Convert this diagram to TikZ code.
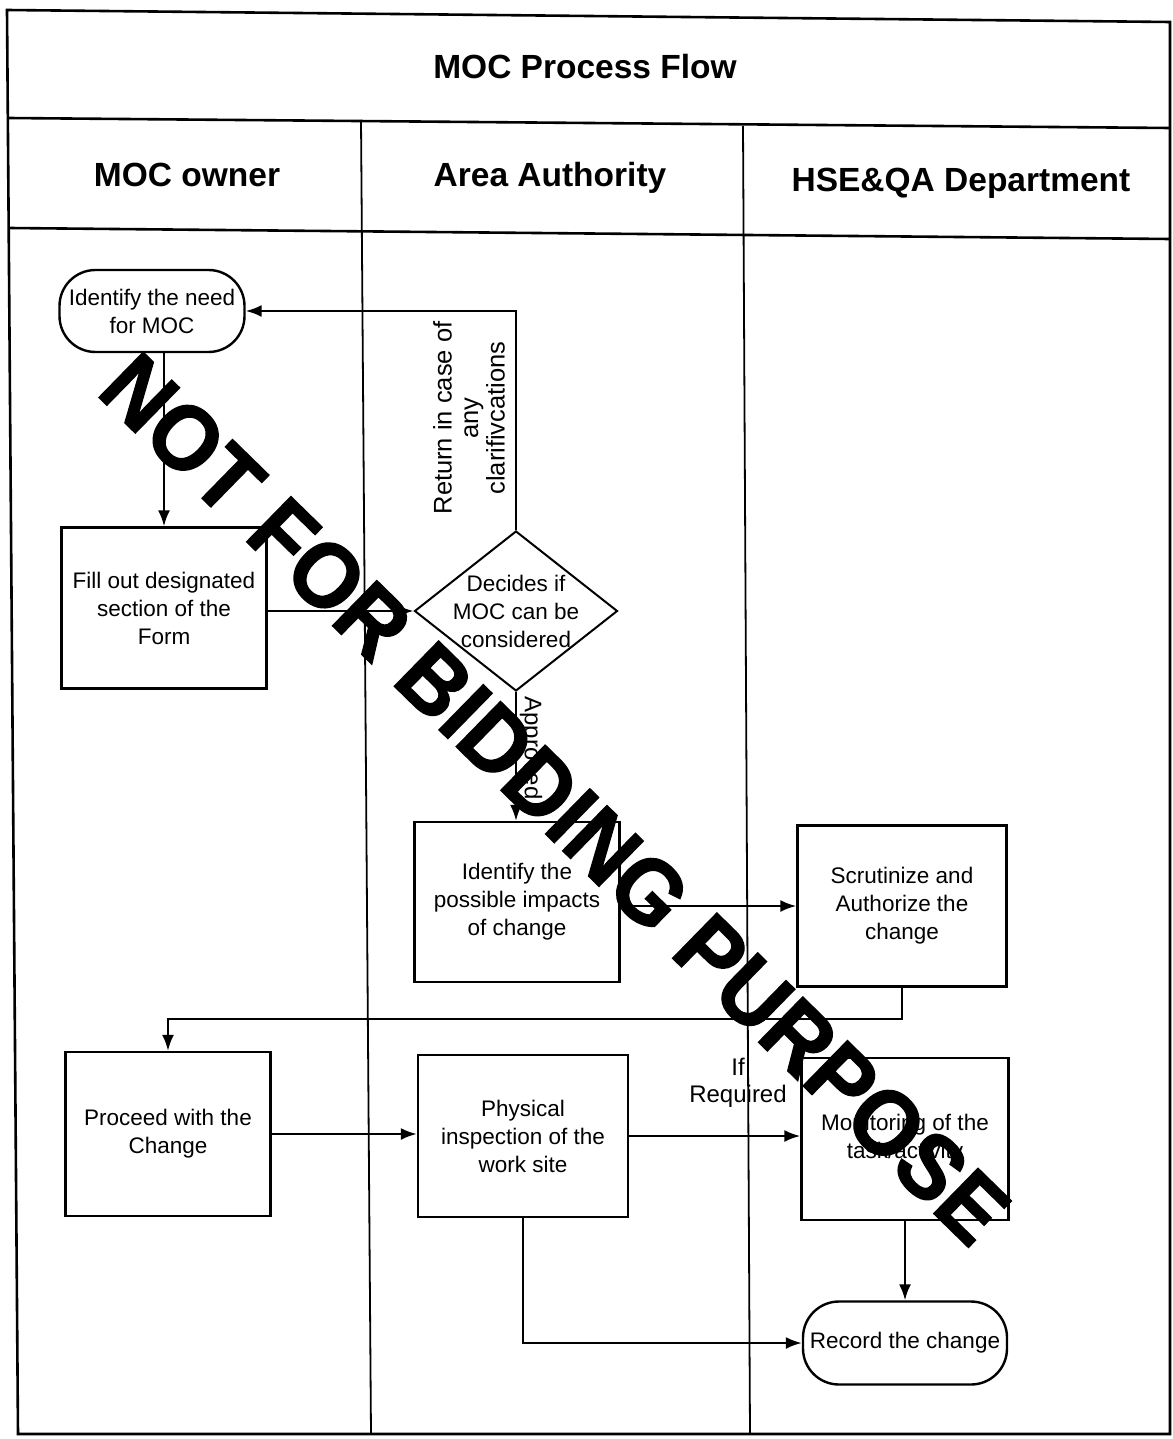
\documentclass[tikz,border=0pt]{standalone}
\usepackage{fontspec}
\setmainfont{Liberation Sans}
\usetikzlibrary{shapes.geometric,arrows.meta}
\newfontfamily\wmfont[FakeBold=1.5]{Liberation Sans Bold}
\begin{document}
\begin{tikzpicture}[x=1pt,y=-1pt,
  frame/.style={line width=2.6pt},
  lane/.style={line width=1.8pt},
  boxtxt/.style={font=\fontsize{22.5}{28}\selectfont, align=center},
  box/.style={draw, line width=2.4pt, boxtxt, inner sep=0pt},
  term/.style={box, rounded corners=36pt},
  dia/.style={draw, diamond, line width=2pt, minimum width=203pt, minimum height=160pt, inner sep=0pt, aspect=1.27},
  conn/.style={line width=2.2pt},
  arr/.style={conn, -{Latex[length=16pt,width=12pt]}},
  hdr/.style={font=\bfseries\fontsize{33.5}{38}\selectfont},
  lbl/.style={font=\fontsize{24}{27}\selectfont, align=center, inner sep=1pt}
]
\useasboundingbox (0,0) rectangle (1172,1439);
\fill[white] (0,0) rectangle (1172,1439);
% frame
\draw[frame] (7,10) -- (1170,22) -- (1170,1434) -- (18,1434) -- cycle;
\draw[frame] (8,118) -- (1170,128);
\draw[frame] (9,228) -- (1170,239);
\draw[lane] (361,120) -- (371,1434);
\draw[lane] (743,126) -- (750,1434);
% titles
\node[hdr] (title) at (585,67) {MOC Process Flow};
\node[hdr] (h1) at (187,175) {MOC owner};
\node[hdr] (h2) at (550,178) {Area Authority};
\node[hdr] (h3) at (961,183) {HSE\&QA Department};
% nodes
\node[term, minimum width=185pt, minimum height=82pt] (need) at (152,311) {Identify the need\\for MOC};
\node[box, minimum width=205pt, minimum height=161pt] (fill) at (164,608) {Fill out designated\\section of the\\Form};
\node[dia] (dec) at (516,611) {};
\node[boxtxt] (dect) at (dec.center) {Decides if\\MOC can be\\considered};
\node[box, minimum width=205pt, minimum height=160pt] (imp) at (517,902) {Identify the\\possible impacts\\of change};
\node[box, minimum width=209pt, minimum height=161pt] (scr) at (902,906) {Scrutinize and\\Authorize the\\change};
\node[box, minimum width=205pt, minimum height=164pt] (pro) at (168,1134) {Proceed with the\\Change};
\node[box, minimum width=210pt, minimum height=162pt] (phy) at (523,1136) {Physical\\inspection of the\\work site};
\node[box, minimum width=207pt, minimum height=162pt] (mon) at (905,1139) {Monitoring of the\\task/activity};
\node[term, minimum width=204pt, minimum height=83pt] (rec) at (905,1343) {Record the change};
% connectors
\draw[arr] (fill.north |- need.south) -- (fill.north);
\draw[arr] (fill.east |- dec.west) -- (dec.west);
\draw[arr] (dec.north) |- (need.east);
\draw[arr] (dec.south) -- (dec.south |- imp.north);
\draw[arr] (imp.east |- scr.west) -- (scr.west);
\draw[arr] (scr.south) -- ++(0,31) -| (pro.north);
\draw[arr] (pro.east) -- (phy.west |- pro.east);
\draw[arr] (phy.east) -- (mon.west |- phy.east);
\draw[arr] (mon.south) -- (mon.south |- rec.north);
\draw[arr] (phy.south) |- (rec.west);
% labels
\node[lbl, rotate=90, font=\fontsize{25.5}{26.5}\selectfont] (retl) at (469,418) {Return in case of\\any\\clarifivcations};
\node[lbl, rotate=-90] (appl) at (531,748) {Approved};
\node[lbl] (ifl) at (738,1083) {If\\Required};
% watermark
\node[font=\wmfont\fontsize{92}{92}\selectfont, rotate=-44.35, xscale=0.94, inner sep=0pt] (wm) at (555,799) {NOT FOR BIDDING PURPOSE};
\end{tikzpicture}
\end{document}
